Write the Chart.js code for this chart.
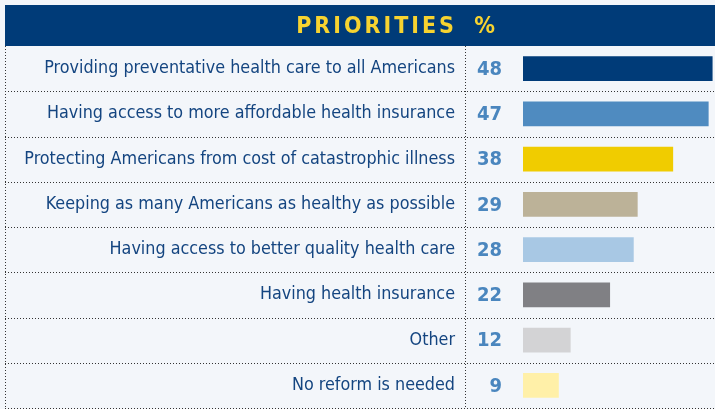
<!DOCTYPE html>
<html>
<head>
<meta charset="utf-8">
<script src="https://cdn.jsdelivr.net/npm/chart.js@4.4.1/dist/chart.umd.min.js"></script>
<style>
    html, body { margin: 0; padding: 0; background: #f3f6fa; }
    #wrap { position: relative; width: 715px; height: 409px; }
</style>
</head>
<body>
<div id="wrap"><canvas id="prioritiesChart"></canvas></div>
<script>
// chart data
const priorities = [
    "Providing preventative health care to all Americans",
    "Having access to more affordable health insurance",
    "Protecting Americans from cost of catastrophic illness",
    "Keeping as many Americans as healthy as possible",
    "Having access to better quality health care",
    "Having health insurance",
    "Other",
    "No reform is needed"
];
const percents = [48, 47, 38, 29, 28, 22, 12, 9];
const barColors = ["#003b78", "#4f8bc0", "#f0cc00", "#bcb298", "#a8c8e4", "#808084", "#d3d3d5", "#fff0a8"];
const titleText = "PRIORITIES";
const unitText = "%";

const condensed = "'Liberation Sans Narrow', 'DejaVu Sans Condensed', sans-serif";

// header band, dotted rules, value column
const tableDecor = {
    id: "tableDecor",
    beforeDraw(chart) {
        const ctx = chart.ctx;
        const area = chart.chartArea;
        ctx.save();
        ctx.fillStyle = "#003b78";
        ctx.fillRect(5, 5, chart.width - 5, area.top - 5);
        ctx.fillStyle = "#f7d330";
        ctx.font = "bold 23px " + condensed;
        ctx.textBaseline = "middle";
        ctx.letterSpacing = "3px";
        ctx.textAlign = "right";
        ctx.fillText(titleText, 457, 27);
        ctx.textAlign = "center";
        ctx.fillText(unitText, 486, 27);
        ctx.restore();
    },
    beforeDatasetsDraw(chart) {
        const ctx = chart.ctx;
        const area = chart.chartArea;
        const y = chart.scales.y;
        ctx.save();
        ctx.strokeStyle = "#333";
        ctx.lineWidth = 1;
        ctx.setLineDash([1, 2]);
        ctx.beginPath();
        for (let i = 0; i < priorities.length; i++) {
            const yy = Math.round((y.getPixelForValue(i) + y.getPixelForValue(i + 1)) / 2) + 0.5;
            ctx.moveTo(5, yy); ctx.lineTo(chart.width, yy);
        }
        ctx.moveTo(5.5, area.top); ctx.lineTo(5.5, chart.height);
        ctx.moveTo(465.5, area.top); ctx.lineTo(465.5, chart.height);
        ctx.stroke();
        ctx.restore();
    },
    afterDatasetsDraw(chart) {
        const ctx = chart.ctx;
        const meta = chart.getDatasetMeta(0);
        ctx.save();
        ctx.fillStyle = "#4a86be";
        ctx.font = "bold 20px " + condensed;
        ctx.textAlign = "right";
        ctx.textBaseline = "middle";
        meta.data.forEach((bar, i) => {
            ctx.fillText(String(percents[i]), 502, bar.y + 1);
        });
        ctx.restore();
    }
};

const config = {
    type: "bar",
    data: {
        labels: priorities,
        datasets: [{
            data: percents,
            backgroundColor: barColors,
            borderWidth: 0,
            barThickness: 24
        }]
    },
    options: {
        indexAxis: "y",
        responsive: true,
        maintainAspectRatio: false,
        animation: false,
        layout: { padding: { top: 46, right: 0, bottom: 1, left: 0 } },
        plugins: {
            legend: { display: false },
            tooltip: { enabled: false }
        },
        scales: {
            x: { display: false, min: 0, max: 48.7 },
            y: {
                position: "left",
                grid: { display: false, drawTicks: false },
                border: { display: false },
                ticks: {
                    color: "#144580",
                    padding: 68,
                    font: { family: condensed, size: 17.8 }
                },
                afterFit(scale) {
                    scale.width = 523;
                    scale.paddingTop = 0;
                    scale.paddingBottom = 0;
                }
            }
        }
    },
    plugins: [tableDecor]
};

new Chart(document.getElementById("prioritiesChart").getContext("2d"), config);
</script>
</body>
</html>
